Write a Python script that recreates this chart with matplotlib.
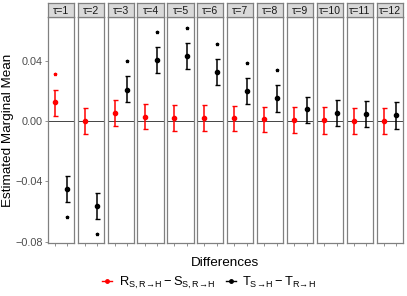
import matplotlib
matplotlib.use("Agg")
import matplotlib.pyplot as plt
from matplotlib.lines import Line2D

plt.rcParams['font.family'] = ['Liberation Sans', 'DejaVu Sans']
plt.rcParams['mathtext.fontset'] = 'custom'
plt.rcParams['mathtext.rm'] = 'Liberation Sans'
plt.rcParams['mathtext.it'] = 'Liberation Sans:italic'
plt.rcParams['mathtext.bf'] = 'Liberation Sans:bold'

taus = ["τ=1", "τ=2", "τ=3", "τ=4", "τ=5", "τ=6", "τ=7", "τ=8", "τ=9", "τ=10", "τ=11", "τ=12"]

red_est = [0.0124, 0.0000, 0.0051, 0.0031, 0.0020, 0.0022, 0.0018, 0.0013, 0.0007, 0.0007, 0.0004, 0.0002]
red_lo = [0.0035, -0.0084, -0.0033, -0.0055, -0.0066, -0.0064, -0.0068, -0.0075, -0.0080, -0.0082, -0.0084, -0.0086]
red_hi = [0.0210, 0.0086, 0.0138, 0.0115, 0.0104, 0.0106, 0.0100, 0.0095, 0.0091, 0.0091, 0.0089, 0.0088]
red_sig = [True, False, False, False, False, False, False, False, False, False, False, False]

blk_est = [-0.0452, -0.0563, 0.0210, 0.0405, 0.0434, 0.0326, 0.0201, 0.0151, 0.0078, 0.0053, 0.0049, 0.0038]
blk_lo = [-0.0538, -0.0650, 0.0126, 0.0321, 0.0348, 0.0237, 0.0115, 0.0064, -0.0011, -0.0035, -0.0038, -0.0049]
blk_hi = [-0.0363, -0.0474, 0.0297, 0.0492, 0.0520, 0.0410, 0.0286, 0.0237, 0.0161, 0.0140, 0.0135, 0.0124]
blk_sig = [True, True, True, True, True, True, True, True, False, False, False, False]

yticks = [-0.08, -0.04, 0.00, 0.04]
ytick_labels = ["\u22120.08", "\u22120.04", "0.00", "0.04"]

legend_labels = [r"$\mathrm{R_{S,R\!\rightarrow\!H}-S_{S,R\!\rightarrow\!H}}$",
                 r"$\mathrm{T_{S\!\rightarrow\!H}-T_{R\!\rightarrow\!H}}$"]

W, H = 407, 296
fig = plt.figure(figsize=(W / 100, H / 100), dpi=100)

left0 = 47.7
pw = 26.3
pitch = 29.9
ptop = 17.0
pbot = 243.3
stop = 2.7

border = '#808080'
ylim = (-0.0810, 0.0691)
offset = 0.010

for i, lab in enumerate(taus):
    x0 = left0 + i * pitch
    ax = fig.add_axes([x0 / W, 1 - pbot / H, pw / W, (pbot - ptop) / H])
    ax.set_xlim(0.43, 2.52)
    ax.set_ylim(*ylim)
    ax.axhline(0, color='#444444', lw=0.7, zorder=1)
    ax.errorbar([1], [red_est[i]], yerr=[[red_est[i] - red_lo[i]], [red_hi[i] - red_est[i]]],
                fmt='o', color='#ff0000', ms=3, elinewidth=1.1, capsize=1.8, capthick=1.0, zorder=3)
    ax.errorbar([2], [blk_est[i]], yerr=[[blk_est[i] - blk_lo[i]], [blk_hi[i] - blk_est[i]]],
                fmt='o', color='black', ms=3, elinewidth=1.1, capsize=1.8, capthick=1.0, zorder=3)
    if red_sig[i]:
        ys = red_hi[i] + offset if red_est[i] > 0 else red_lo[i] - offset
        ax.plot([1], [ys], marker='*', color='#ff0000', ms=2.4, ls='none')
    if blk_sig[i]:
        ys = blk_hi[i] + offset if blk_est[i] > 0 else blk_lo[i] - offset
        ax.plot([2], [ys], marker='*', color='black', ms=2.4, ls='none')
    for s in ax.spines.values():
        s.set_color(border)
        s.set_linewidth(0.9)
    ax.set_xticks([1, 2])
    ax.set_xticklabels([])
    ax.tick_params(axis='x', length=2, width=0.5, color='#666666')
    if i == 0:
        ax.set_yticks(yticks)
        ax.set_yticklabels(ytick_labels, fontsize=7.8, color='#4d4d4d')
        ax.tick_params(axis='y', length=2, width=0.5, color='#666666', pad=1.5)
    else:
        ax.set_yticks([])
    sax = fig.add_axes([x0 / W, 1 - ptop / H, pw / W, (ptop - stop) / H])
    sax.set_facecolor('#d9d9d9')
    sax.set_xticks([]); sax.set_yticks([])
    for s in sax.spines.values():
        s.set_color(border)
        s.set_linewidth(0.9)
    sax.text(0.5, 0.45, lab, ha='center', va='center', fontsize=7.6, color='#1a1a1a',
             transform=sax.transAxes)

fig.text(8 / W, 1 - 130 / H, "Estimated Marginal Mean", rotation=90, ha='center', va='center',
         fontsize=9.7, color='black')
fig.text(225 / W, 1 - 263 / H, "Differences", ha='center', va='center', fontsize=9.7, color='black')

handles = [Line2D([0], [0], color='#ff0000', marker='o', ms=2.5, lw=1.0),
           Line2D([0], [0], color='black', marker='o', ms=2.5, lw=1.0)]
fig.legend(handles, legend_labels, loc='center', bbox_to_anchor=(209 / W, 1 - 283 / H),
           ncol=2, frameon=False, fontsize=9.3, handlelength=0.8, handletextpad=0.5,
           columnspacing=0.8, borderpad=0)

fig.savefig("out.png", dpi=100)
